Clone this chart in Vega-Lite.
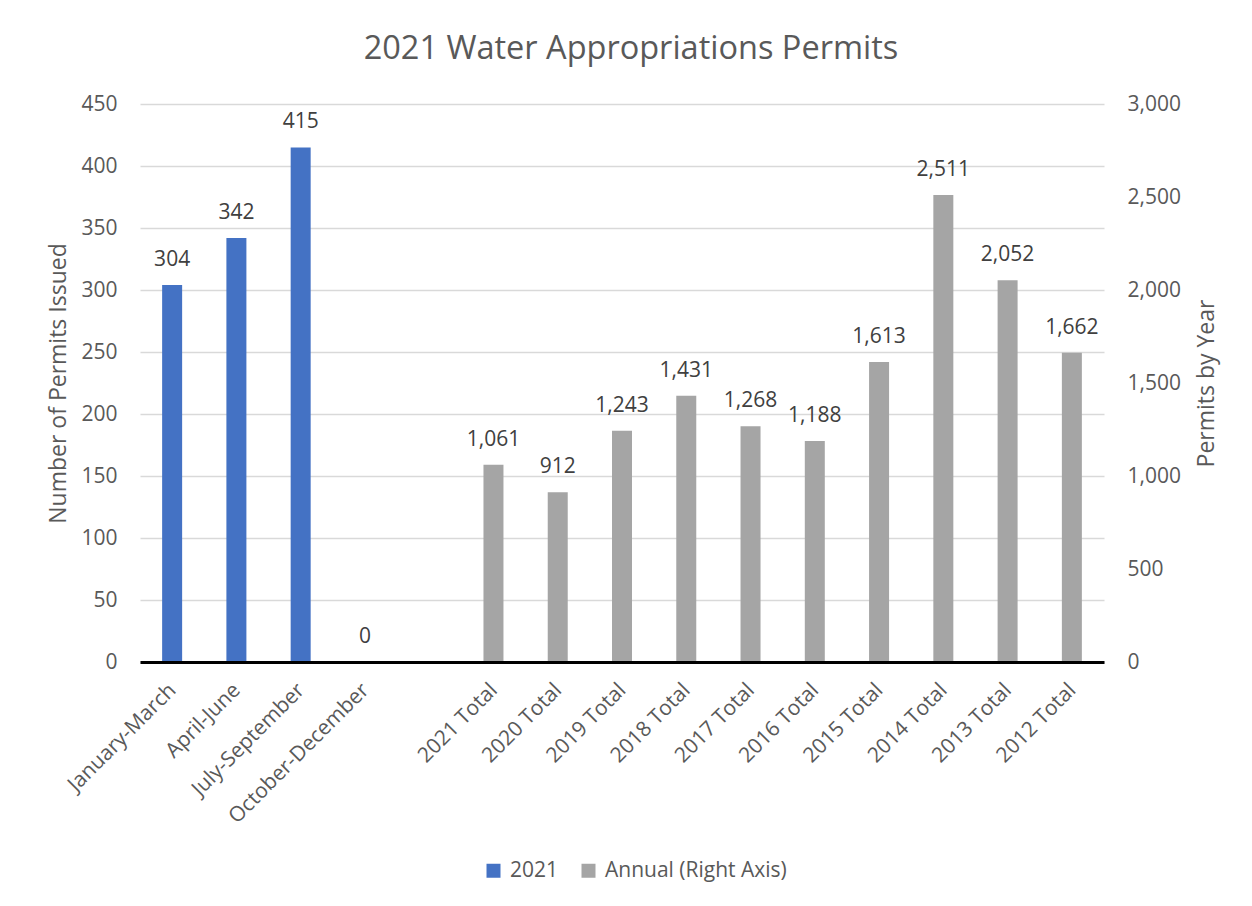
{
  "$schema": "https://vega.github.io/schema/vega-lite/v6.json",
  "width": 964,
  "height": 558,
  "autosize": {"type": "none"},
  "padding": {"left": 140, "top": 104, "right": 148, "bottom": 244},
  "background": "white",
  "config": {
    "font": "Open Sans",
    "view": {"stroke": null},
    "text": {"font": "Open Sans"},
    "legend": {
      "orient": "none",
      "legendX": 343,
      "legendY": 756,
      "direction": "horizontal",
      "symbolType": "square",
      "symbolSize": 196,
      "symbolStrokeWidth": 0,
      "labelFontSize": 21,
      "labelColor": "#595959",
      "labelFont": "Open Sans",
      "labelOffset": 6,
      "labelLimit": 400,
      "columnPadding": 19,
      "padding": 0
    }
  },
  "title": {
    "text": "2021 Water Appropriations Permits",
    "fontSize": 32.5,
    "font": "Open Sans",
    "fontWeight": "normal",
    "color": "#595959",
    "anchor": "middle",
    "dx": 9,
    "offset": 28
  },
  "data": {
    "values": [
      {"period": "January-March", "series": "2021", "count": 304},
      {"period": "April-June", "series": "2021", "count": 342},
      {"period": "July-September", "series": "2021", "count": 415},
      {"period": "October-December", "series": "2021", "count": 0},
      {"period": "2021 Total", "series": "Annual (Right Axis)", "count": 1061},
      {"period": "2020 Total", "series": "Annual (Right Axis)", "count": 912},
      {"period": "2019 Total", "series": "Annual (Right Axis)", "count": 1243},
      {"period": "2018 Total", "series": "Annual (Right Axis)", "count": 1431},
      {"period": "2017 Total", "series": "Annual (Right Axis)", "count": 1268},
      {"period": "2016 Total", "series": "Annual (Right Axis)", "count": 1188},
      {"period": "2015 Total", "series": "Annual (Right Axis)", "count": 1613},
      {"period": "2014 Total", "series": "Annual (Right Axis)", "count": 2511},
      {"period": "2013 Total", "series": "Annual (Right Axis)", "count": 2052},
      {"period": "2012 Total", "series": "Annual (Right Axis)", "count": 1662}
    ]
  },
  "encoding": {
    "x": {
      "field": "period",
      "type": "nominal",
      "sort": null,
      "scale": {
        "domain": ["January-March", "April-June", "July-September", "October-December", " ",
                   "2021 Total", "2020 Total", "2019 Total", "2018 Total", "2017 Total",
                   "2016 Total", "2015 Total", "2014 Total", "2013 Total", "2012 Total"],
        "paddingInner": 0,
        "paddingOuter": 0
      },
      "axis": {
        "title": null,
        "labelAngle": -45,
        "labelFontSize": 21,
        "labelColor": "#595959",
        "labelPadding": 17,
        "labelOffset": -7,
        "labelLimit": 400,
        "ticks": false,
        "grid": false,
        "domainColor": "#000000",
        "domainWidth": 3,
        "zindex": 1
      }
    }
  },
  "layer": [
    {
      "transform": [{"filter": "datum.series === '2021'"}],
      "encoding": {
        "y": {
          "field": "count",
          "type": "quantitative",
          "scale": {"domain": [0, 450], "nice": false},
          "axis": {
            "orient": "left",
            "title": "Number of Permits Issued",
            "values": [0, 50, 100, 150, 200, 250, 300, 350, 400, 450],
            "domain": false,
            "ticks": false,
            "grid": true,
            "gridColor": "#D9D9D9",
            "gridWidth": 1.5,
            "labelFontSize": 21,
            "labelColor": "#595959",
            "labelPadding": 23,
            "titleFontSize": 23,
            "titleFontWeight": "normal",
            "titleColor": "#595959",
            "titlePadding": 10
          }
        }
      },
      "layer": [
        {
          "mark": {"type": "bar", "size": 20},
          "encoding": {
            "color": {
              "field": "series",
              "type": "nominal",
              "scale": {"domain": ["2021", "Annual (Right Axis)"], "range": ["#4472C4", "#A5A5A5"]},
              "legend": {"title": null}
            }
          }
        },
        {
          "mark": {"type": "text", "fontSize": 21, "color": "#404040", "baseline": "alphabetic", "dy": -19},
          "encoding": {"text": {"field": "count", "type": "quantitative", "format": ","}}
        }
      ]
    },
    {
      "transform": [{"filter": "datum.series === 'Annual (Right Axis)'"}],
      "encoding": {
        "y": {
          "field": "count",
          "type": "quantitative",
          "scale": {"domain": [0, 3000], "nice": false},
          "axis": {
            "orient": "right",
            "title": "Permits by Year",
            "values": [0, 500, 1000, 1500, 2000, 2500, 3000],
            "labelExpr": "format(datum.value, ',')",
            "domain": false,
            "ticks": false,
            "grid": false,
            "labelFontSize": 21,
            "labelColor": "#595959",
            "labelPadding": 23,
            "titleFontSize": 23,
            "titleFontWeight": "normal",
            "titleColor": "#595959",
            "titleAngle": -90,
            "titlePadding": 38
          }
        }
      },
      "layer": [
        {
          "mark": {"type": "bar", "size": 20},
          "encoding": {
            "color": {"field": "series", "type": "nominal"}
          }
        },
        {
          "mark": {"type": "text", "fontSize": 21, "color": "#404040", "baseline": "alphabetic", "dy": -19},
          "encoding": {"text": {"field": "count", "type": "quantitative", "format": ","}}
        }
      ]
    }
  ],
  "resolve": {"scale": {"y": "independent"}, "axis": {"y": "independent"}}
}
